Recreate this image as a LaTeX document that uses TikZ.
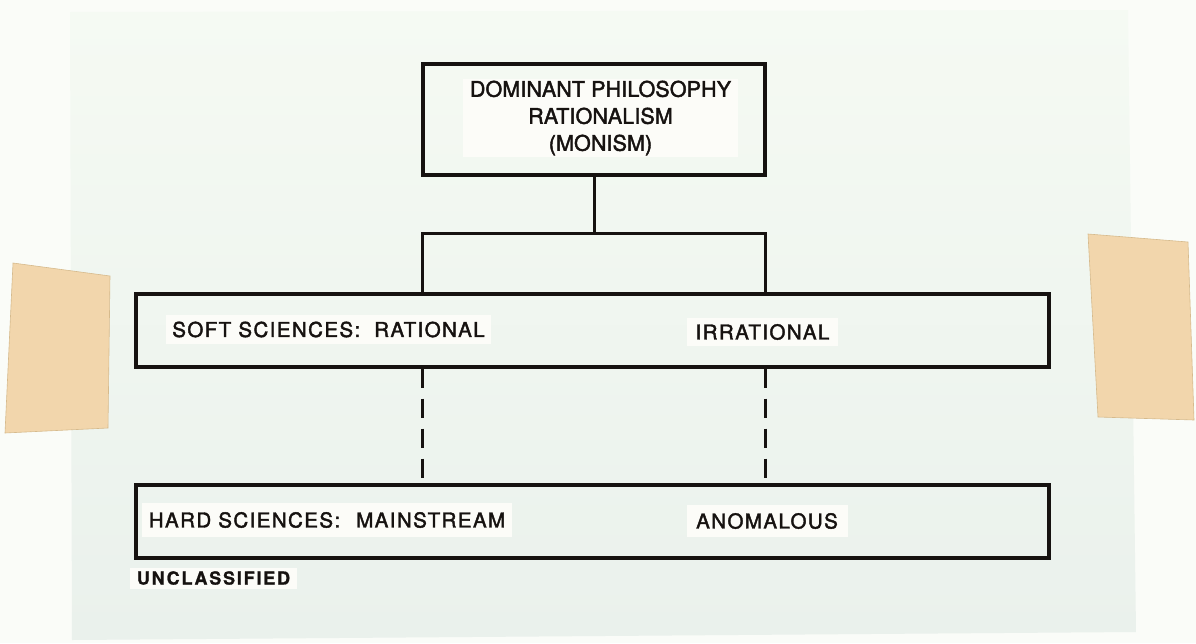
\documentclass[tikz,border=0pt]{standalone}
\usepackage{fontspec}
\setmainfont{TeX Gyre Heros}
\newfontfamily\headfont[LetterSpace=0.5,FakeBold=2]{TeX Gyre Heros}
\newfontfamily\labelfont[LetterSpace=7,FakeBold=2]{TeX Gyre Heros}
\newfontfamily\tagfont[LetterSpace=10,FakeBold=1]{TeX Gyre Heros}
\definecolor{paper}{RGB}{250,252,248}
\definecolor{sheettop}{RGB}{245,250,243}
\definecolor{sheetbot}{RGB}{234,241,236}
\definecolor{tape}{RGB}{242,214,172}
\definecolor{tapeedge}{RGB}{214,186,140}
\definecolor{slip}{RGB}{252,252,248}
\definecolor{ink}{RGB}{22,18,16}
\tikzset{
  frame/.style={draw=ink, line width=3.4pt, rectangle, inner sep=0pt},
  link/.style={draw=ink, line width=3pt},
  dashlink/.style={draw=ink, line width=3pt, dash pattern=on 19pt off 11pt},
  slipbox/.style={fill=slip, inner sep=0pt, align=center, text=ink},
  tapestrip/.style={fill=tape, draw=tapeedge, line width=0.6pt}
}
\begin{document}
\begin{tikzpicture}[x=1pt,y=-1pt]
% paper and acetate sheet
\fill[paper] (0,0) rectangle (1196,643);
\useasboundingbox (0,0) rectangle (1196,643);
\shade[top color=sheettop, bottom color=sheetbot] (70,12) -- (1128,10) -- (1136,632) -- (72,640) -- cycle;

% boxes
\node[frame, minimum width=342pt, minimum height=111pt] (top) at (594,119.5) {};
\node[frame, minimum width=913pt, minimum height=73pt] (mid) at (592.5,330.5) {};
\node[frame, minimum width=913pt, minimum height=73pt] (bot) at (592.5,521.5) {};

% connectors
\coordinate (j) at (594,233);
\coordinate (jl) at (422,233);
\coordinate (jr) at (765,233);
\draw[link] (top.south) -- (j);
\draw[link, line cap=rect] (jl) -- (jr);
\draw[link] (jl) -- (jl |- mid.north);
\draw[link] (jr) -- (jr |- mid.north);
\draw[dashlink] (jl |- mid.south) -- (jl |- bot.north);
\draw[dashlink] (jr |- mid.south) -- (jr |- bot.north);

% text slips
\node[slipbox, minimum width=275pt, minimum height=78pt, font=\headfont\fontsize{21.5}{27}\selectfont] (tl) at (600.5,118)
  {DOMINANT PHILOSOPHY\\RATIONALISM\\(MONISM)};
\node[slipbox, minimum width=325pt, minimum height=29pt, font=\labelfont\fontsize{20.5}{22}\selectfont] (soft) at (328.5,329.5)
  {SOFT SCIENCES:\hspace{14pt}RATIONAL};
\node[slipbox, minimum width=151pt, minimum height=28pt, font=\labelfont\fontsize{20.5}{22}\selectfont] (irr) at (762.5,332)
  {IRRATIONAL};
\node[slipbox, minimum width=370pt, minimum height=34pt, font=\labelfont\fontsize{20.5}{23}\selectfont] (hard) at (327,520)
  {HARD SCIENCES:\hspace{16pt}MAINSTREAM};
\node[slipbox, minimum width=161pt, minimum height=32pt, font=\labelfont\fontsize{20.5}{22}\selectfont] (anom) at (767,521)
  {ANOMALOUS};
\node[slipbox, minimum width=167pt, minimum height=21pt, font=\tagfont\bfseries\fontsize{18}{20}\selectfont] (uncl) at (213.5,578)
  {UNCLASSIFIED};

% masking tape
\fill[tapestrip] (13,263) -- (110,276) -- (108,428) -- (5,433) -- cycle;
\fill[tapestrip] (1088,234) -- (1188,242) -- (1194,420) -- (1098,417) -- cycle;
\end{tikzpicture}
\end{document}
